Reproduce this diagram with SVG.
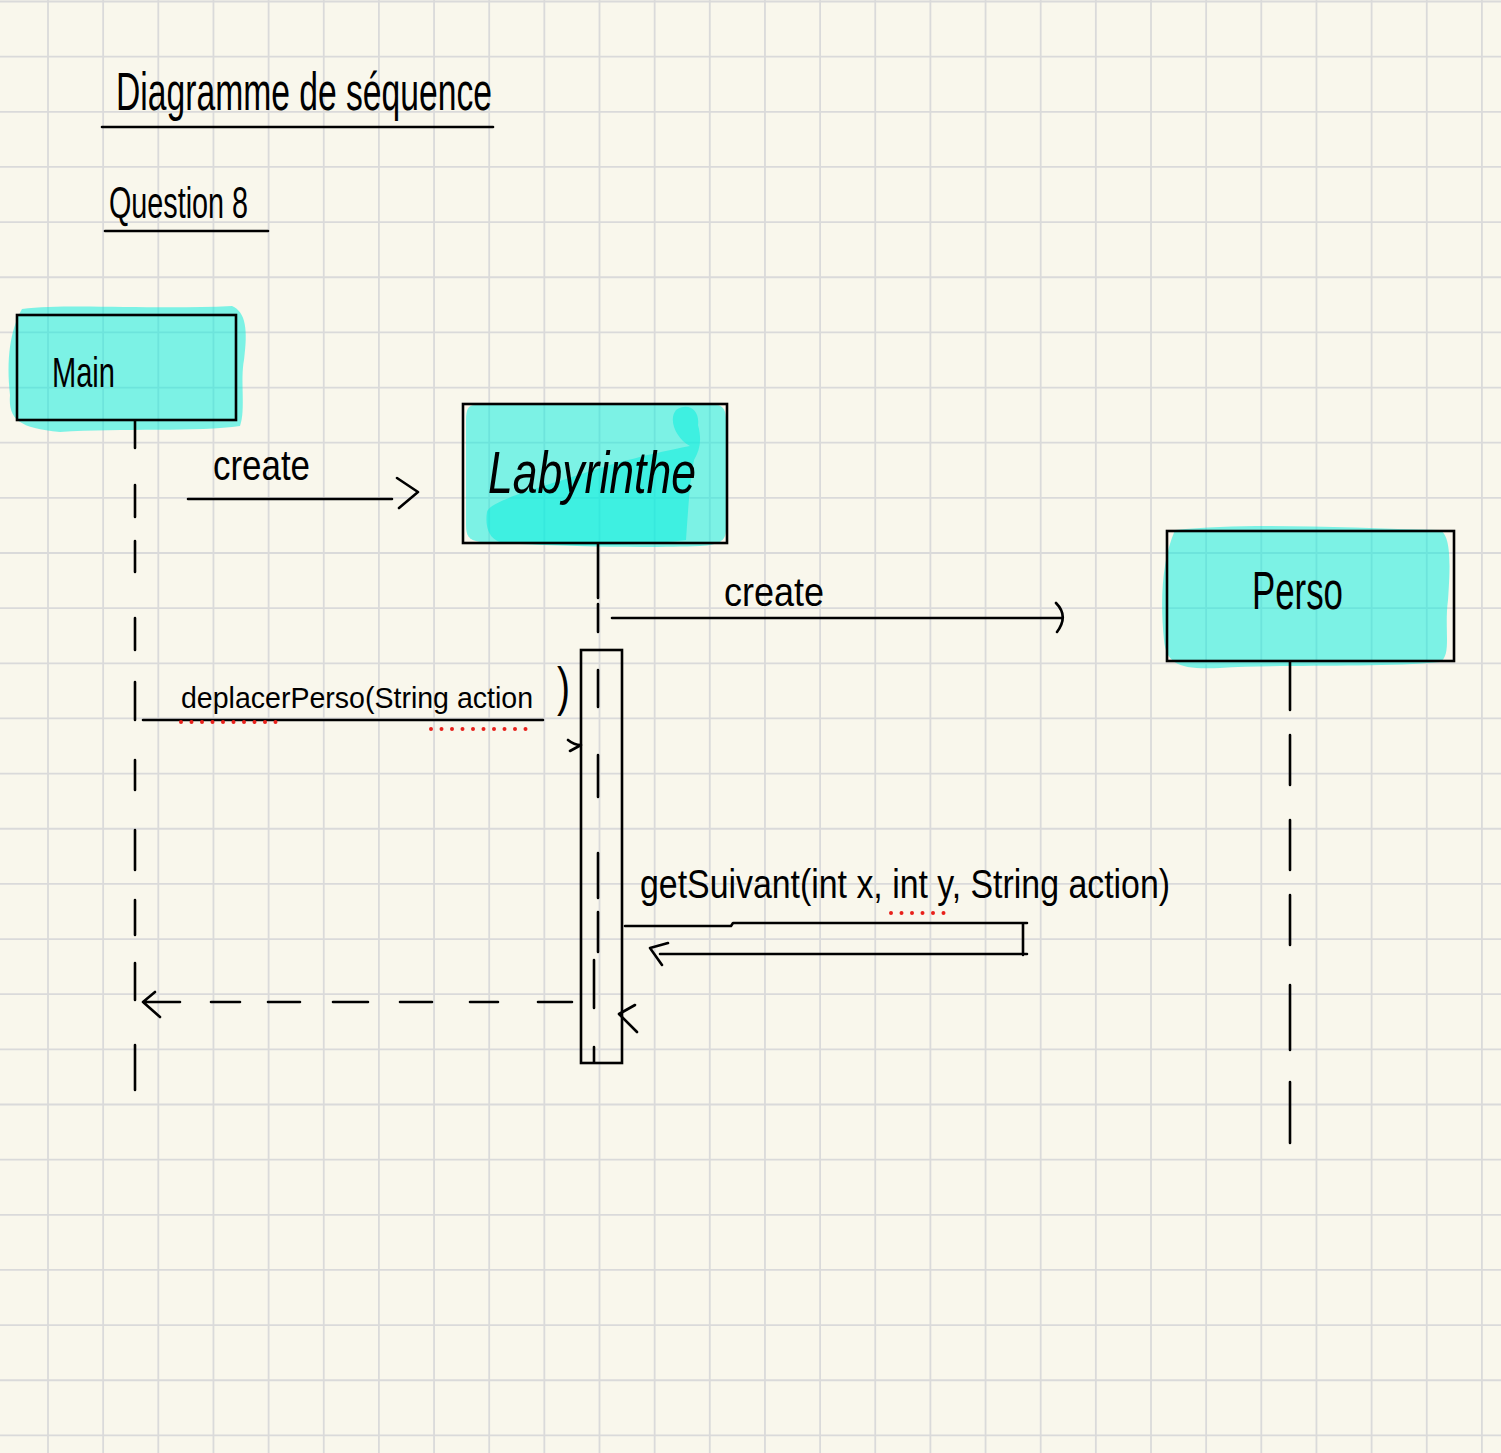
<svg xmlns="http://www.w3.org/2000/svg" width="1501" height="1453" viewBox="0 0 1501 1453">
<defs>
<style>
.grid{stroke:#dadada;stroke-width:1.8;fill:none}
.hl{fill:rgb(0,238,222);fill-opacity:0.5}
.box{fill:none;stroke:#000;stroke-width:2.6}
.ln{fill:none;stroke:#000;stroke-width:2.6;stroke-linecap:round;stroke-linejoin:round}
.dots{fill:none;stroke:#e8201a;stroke-width:4;stroke-linecap:round;stroke-dasharray:0 10.5}
.t{font-family:"Liberation Sans","DejaVu Sans",sans-serif;fill:#000}
</style>
</defs>
<rect x="0" y="0" width="1501" height="1453" fill="#f9f7ec"/>
<path class="grid" d="M48 0V1453M103.15 0V1453M158.3 0V1453M213.45 0V1453M268.6 0V1453M323.75 0V1453M378.9 0V1453M434.05 0V1453M489.2 0V1453M544.35 0V1453M599.5 0V1453M654.65 0V1453M709.8 0V1453M764.95 0V1453M820.1 0V1453M875.25 0V1453M930.4 0V1453M985.55 0V1453M1040.7 0V1453M1095.85 0V1453M1151 0V1453M1206.15 0V1453M1261.3 0V1453M1316.45 0V1453M1371.6 0V1453M1426.75 0V1453M1481.9 0V1453M0 1.5H1501M0 56.65H1501M0 111.8H1501M0 166.95H1501M0 222.1H1501M0 277.25H1501M0 332.4H1501M0 387.55H1501M0 442.7H1501M0 497.85H1501M0 553H1501M0 608.15H1501M0 663.3H1501M0 718.45H1501M0 773.6H1501M0 828.75H1501M0 883.9H1501M0 939.05H1501M0 994.2H1501M0 1049.35H1501M0 1104.5H1501M0 1159.65H1501M0 1214.8H1501M0 1269.95H1501M0 1325.1H1501M0 1380.25H1501M0 1435.4H1501"/>

<g id="title">
<text class="t" x="116" y="110" font-size="54" textLength="376" lengthAdjust="spacingAndGlyphs">Diagramme de séquence</text>
<path class="ln" d="M102 127H493"/>
<text class="t" x="109" y="218" font-size="44" textLength="139" lengthAdjust="spacingAndGlyphs">Question 8</text>
<path class="ln" d="M105 231H268"/>
</g>

<g id="node-main">
<path class="hl" d="M22 309C70 303 150 310 232 306C246 312 248 330 244 360C240 380 246 410 240 426C200 432 120 428 60 432C20 428 8 420 10 395C6 360 10 330 22 309Z"/>
<rect class="box" x="17" y="315" width="219" height="105"/>
<text class="t" x="52" y="387" font-size="42" textLength="63" lengthAdjust="spacingAndGlyphs">Main</text>
</g>

<g id="node-labyrinthe">
<path class="hl" d="M475 405H716C724 405 726 412 726 420V530C726 540 720 545 700 546C650 548 560 547 480 542C468 540 466 535 466 525V420C466 410 468 405 475 405Z"/>
<path class="hl" d="M487 512C490 500 540 488 600 468C640 456 670 450 690 446C676 438 668 420 676 410C688 402 700 410 698 425C702 440 700 450 694 460C690 480 688 510 686 540C640 546 560 547 500 542C488 538 485 525 487 512Z"/>
<rect class="box" x="463" y="404" width="264" height="139"/>
<text class="t" x="488" y="493" font-size="60" font-style="italic" font-family="Liberation Serif" textLength="208" lengthAdjust="spacingAndGlyphs">Labyrinthe</text>
</g>

<g id="node-perso">
<path class="hl" d="M1175 530C1250 522 1350 528 1440 530C1452 536 1450 570 1448 600C1444 630 1452 655 1440 662C1380 668 1280 664 1220 668C1180 670 1166 664 1164 640C1160 600 1162 560 1175 530Z"/>
<rect class="box" x="1167" y="531" width="287" height="130"/>
<text class="t" x="1252" y="609" font-size="54" textLength="91" lengthAdjust="spacingAndGlyphs">Perso</text>
</g>

<g id="activation-labyrinthe">
<rect class="box" x="581" y="650" width="41" height="413"/>
</g>

<g id="lifelines">
<path class="ln" d="M135 421V448M135 485V517M135 541V572M135 618V650M135 682V720M135 760V790M135 830V870M135 900V935M135 963V1000M135 1045V1090"/>
<path class="ln" d="M598 544V598M598 604V632M598 670V707M598 755V797M598 853V898M598 912V952M594 960V1008M594 1047V1062"/>
<path class="ln" d="M1290 662V710M1290 735V785M1290 820V870M1290 895V945M1290 985V1050M1290 1082V1143"/>
</g>

<g id="connectors">
<path class="ln" d="M188 499H392M397 478L418 492L399 508"/>
<text class="t" x="213" y="480" font-size="42" textLength="97" lengthAdjust="spacingAndGlyphs">create</text>

<path class="ln" d="M612 618H1062M1056 603Q1069 616 1057 632"/>
<text class="t" x="724" y="606" font-size="40" textLength="100" lengthAdjust="spacingAndGlyphs">create</text>

<path class="ln" d="M143 720H543M568 740Q574 745 581 745M570 751L581 745"/>
<text class="t" x="181" y="708" font-size="30" textLength="352" lengthAdjust="spacingAndGlyphs">deplacerPerso(String action</text>
<text class="t" x="557" y="705" font-size="54" textLength="13" lengthAdjust="spacingAndGlyphs">)</text>
<path class="dots" d="M181 722H285"/>
<path class="dots" d="M431 729H535"/>

<path class="ln" d="M625 926H731L733 923H1027M1023 923V955M1027 954H660M668 943L650 948L662 965"/>
<text class="t" x="640" y="898" font-size="40" textLength="530" lengthAdjust="spacingAndGlyphs">getSuivant(int x, int y, String action)</text>
<path class="dots" d="M891 913H952"/>

<path class="ln" d="M635 1005L619 1014L637 1032"/>

<path class="ln" d="M143 1002H180M211 1002H240M268 1002H300M333 1002H368M400 1002H432M470 1002H498M538 1002H572M155 992L143 1002L160 1017"/>
</g>
</svg>
